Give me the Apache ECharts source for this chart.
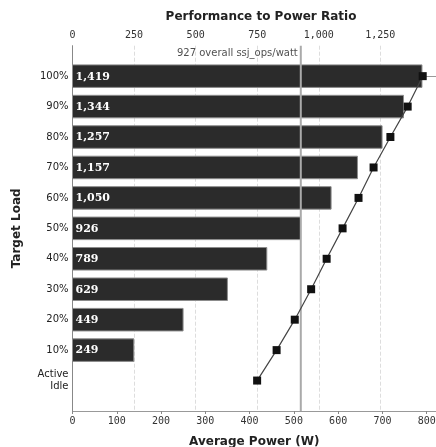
<!DOCTYPE html>
<html>
<head>
<meta charset="utf-8">
<script src="https://cdn.jsdelivr.net/npm/echarts@6/dist/echarts.min.js"></script>
<style>
html,body{margin:0;padding:0;background:#fff;}
#chart{width:436px;height:447px;}
</style>
</head>
<body>
<div id="chart"></div>
<script>
const categories = ['100%','90%','80%','70%','60%','50%','40%','30%','20%','10%','Active\nIdle'];
const perfRatio = [1419,1344,1257,1157,1050,926,789,629,449,249,null];
const avgPower = [791,757,718,680,646,610,574,539,502,461,417];
const overallRatio = 927;
const overallLabel = '927 overall ssj_ops/watt';

function addCommas(v){ return String(v).replace(/\B(?=(\d{3})+(?!\d))/g, ','); }

const barData = [];
perfRatio.forEach((v,i)=>{ if(v!=null) barData.push([v,i]); });
const powerData = avgPower.map((p,i)=>[p,i]);

const chart = echarts.init(document.getElementById('chart'), null, {renderer:'canvas'});
chart.setOption({
  backgroundColor:'#fff',
  animation:false,
  title:{
    text:'Performance to Power Ratio',
    left:256, top:6, textAlign:'center',
    textStyle:{fontFamily:'DejaVu Sans', fontWeight:'bold', fontSize:12, color:'#222'}
  },
  grid:{left:72.5, right:0, top:45.7, bottom:36, containLabel:false, outerBoundsMode:'none'},
  xAxis:[
    {
      type:'value', position:'top', min:0, max:1476, interval:250,
      axisLine:{show:true, lineStyle:{color:'#999', width:1}},
      axisTick:{show:true, length:3, lineStyle:{color:'#888'}},
      axisLabel:{show:true, margin:5, showMaxLabel:false, color:'#333',
        fontFamily:'DejaVu Sans Mono', fontSize:10, formatter:v=>addCommas(v)},
      splitLine:{show:true, lineStyle:{color:'#dddddd', type:'dashed', width:1}}
    },
    {
      type:'value', position:'bottom', min:0, max:821, interval:100,
      name:'Average Power (W)', nameLocation:'middle', nameGap:25,
      nameTextStyle:{fontFamily:'DejaVu Sans', fontWeight:'bold', fontSize:12, color:'#222'},
      axisLine:{show:true, lineStyle:{color:'#999', width:1}},
      axisTick:{show:true, length:3, lineStyle:{color:'#888'}},
      axisLabel:{show:true, margin:5, showMaxLabel:false, color:'#333',
        fontFamily:'DejaVu Sans Mono', fontSize:10},
      splitLine:{show:false}
    }
  ],
  yAxis:{
    type:'value', inverse:true, min:-1, max:11, interval:1,
    name:'Target Load', nameLocation:'middle', nameRotate:90, nameGap:50,
    nameTextStyle:{fontFamily:'DejaVu Sans', fontWeight:'bold', fontSize:12, color:'#222'},
    axisLine:{show:true, lineStyle:{color:'#888', width:1}},
    axisTick:{show:false},
    splitLine:{show:false},
    axisLabel:{show:true, margin:4, color:'#222', fontFamily:'DejaVu Sans', fontSize:10, lineHeight:12,
      formatter:v=>{ const i=Math.round(v); return (i>=0 && i<categories.length && Math.abs(v-i)<1e-6) ? categories[i] : ''; }}
  },
  series:[
    {
      type:'custom', xAxisIndex:0, yAxisIndex:0, z:2,
      data:barData,
      renderItem:(params, api)=>{
        const v=api.value(0), row=api.value(1);
        const s=api.coord([0,row]); const e=api.coord([v,row]);
        const h=api.size([0,1])[1]*0.74;
        return {type:'group', children:[
          {type:'rect', shape:{x:s[0], y:s[1]-h/2, width:e[0]-s[0], height:h},
            style:{fill:'#2b2b2b', stroke:'#8c8c8c', lineWidth:1}},
          {type:'text', style:{text:addCommas(v), x:s[0]+3, y:s[1]+0.5, verticalAlign:'middle', align:'left',
            fill:'#fff', fontFamily:'DejaVu Serif', fontWeight:'bold', fontSize:11}}
        ]};
      }
    },
    {
      type:'line', xAxisIndex:0, yAxisIndex:0, z:4,
      data:[[overallRatio,-1],[overallRatio,11]],
      symbol:'none', silent:true,
      lineStyle:{color:'#aaaaaa', width:2}
    },
    {
      type:'scatter', xAxisIndex:0, yAxisIndex:0, z:4,
      data:[[overallRatio,-0.74]], symbolSize:0, silent:true,
      label:{show:true, position:'left', distance:3, formatter:overallLabel,
        color:'#222', fontFamily:'DejaVu Sans', fontSize:10}
    },
    {
      type:'line', xAxisIndex:1, yAxisIndex:0, z:5,
      data:powerData,
      symbol:'rect', symbolSize:8,
      lineStyle:{color:'#444', width:1.2},
      itemStyle:{color:'#111'}
    }
  ]
});
</script>
</body>
</html>
